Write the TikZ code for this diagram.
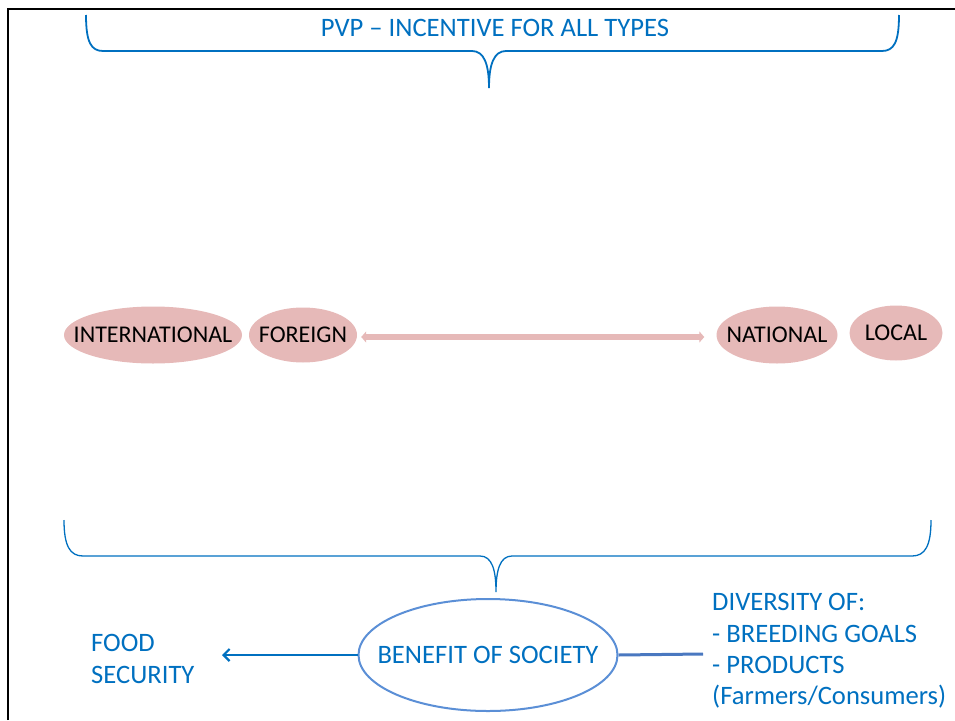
\documentclass[tikz,border=0pt]{standalone}
\usepackage{fontspec}
\setmainfont{Carlito}
\usetikzlibrary{arrows.meta,shapes.geometric}
\definecolor{txtblue}{HTML}{0070C0}
\definecolor{ovalblue}{HTML}{5B8FD6}
\definecolor{lineblue}{HTML}{4A78C0}
\definecolor{pinkfill}{HTML}{E6B9B8}
\newcommand{\ovaltext}[1]{\makebox[0pt]{#1}}
\tikzset{
  bluetext/.style={text=txtblue, font=\fontsize{26.6}{31.4}\selectfont, inner sep=0pt},
  pinkoval/.style={ellipse, fill=pinkfill, inner sep=0pt, text=black, font=\fontsize{24}{28}\selectfont},
  bracestyle/.style={draw=txtblue, line width=1.8pt}
}
\begin{document}
\begin{tikzpicture}[x=1pt,y=-1pt]
\useasboundingbox (0,0) rectangle (955,720);
% frame
\draw[line width=2pt, black] (8,720) -- (8,8.5) -- (956,8.5);
% top brace
\draw[bracestyle] (86,15) .. controls (86,42) and (91,51) .. (103,51) -- (472,51)
  .. controls (484,51) and (489,64) .. (489,88)
  .. controls (489,64) and (494,51) .. (506,51) -- (882,51)
  .. controls (894,51) and (899,42) .. (899,15);
\node[bluetext] (title) at (495,28) {PVP -- INCENTIVE FOR ALL TYPES};
% ovals
\node[pinkoval, minimum width=178, minimum height=57] (intl) at (153,335) {\ovaltext{INTERNATIONAL}};
\node[pinkoval, minimum width=108, minimum height=55] (foreign) at (303,335) {\ovaltext{FOREIGN}};
\node[pinkoval, minimum width=121, minimum height=57] (natl) at (777,335) {\ovaltext{NATIONAL}};
\node[pinkoval, minimum width=93, minimum height=55] (local) at (896,333) {\ovaltext{LOCAL}};
\draw[pinkfill, line width=5.5pt, {Triangle[width=11pt,length=5pt]}-{Triangle[width=11pt,length=5pt]}, shorten <=4pt, shorten >=12pt]
  (foreign.east |- 0,337) -- (natl.west |- 0,337);
% bottom brace
\draw[bracestyle, line width=1.3pt] (64,520) .. controls (64,546) and (70,556) .. (83,556) -- (480,556)
  .. controls (492,556) and (496,570) .. (496,592)
  .. controls (496,570) and (500,556) .. (512,556) -- (912,556)
  .. controls (925,556) and (931,546) .. (931,520);
% benefit
\node[ellipse, draw=ovalblue, line width=2pt, minimum width=259, minimum height=112, inner sep=0pt,
  text=txtblue, font=\fontsize{26.6}{30}\selectfont] (benefit) at (488,655) {\ovaltext{BENEFIT OF SOCIETY}};
\node[bluetext, align=left, anchor=west] (food) at (91,659) {FOOD\\SECURITY};
\coordinate (foodtip) at (222,655);
\draw[txtblue, line width=2.6pt, -{Straight Barb[length=6pt,width=12pt,line width=2.2pt]}] (benefit.west) -- (foodtip);
\node[bluetext, align=left, anchor=west] (div) at (712,651) {DIVERSITY OF:\\- BREEDING GOALS\\- PRODUCTS\\(Farmers/Consumers)};
\coordinate (divend) at (703,654);
\draw[lineblue, line width=3pt] (benefit.east) -- (divend);
\end{tikzpicture}
\end{document}
